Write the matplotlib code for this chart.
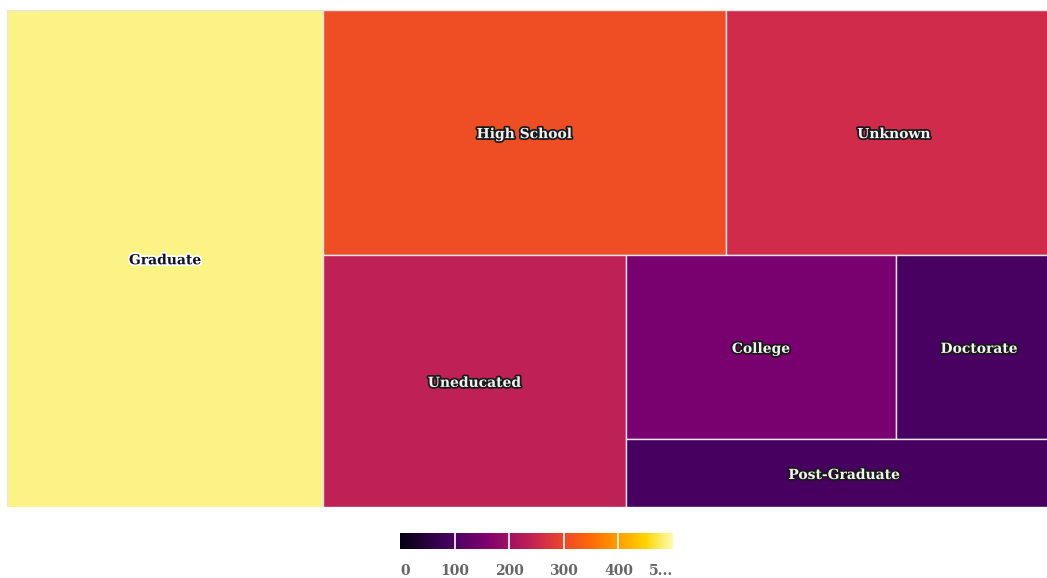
import numpy as np
import matplotlib
matplotlib.use('Agg')
import matplotlib.pyplot as plt
import matplotlib.patheffects as pe
from matplotlib.colors import LinearSegmentedColormap, Normalize, to_rgb
from matplotlib.patches import Rectangle

# Attrited customers per education level, in the order the chart lists them
categories = ['Graduate', 'High School', 'Unknown', 'Uneducated',
              'College', 'Doctorate', 'Post-Graduate']
counts = [487, 306, 256, 237, 154, 95, 92]

# Colour axis
color_min = 0
color_max = 500
color_ticks = [0, 100, 200, 300, 400, 500]
color_tick_labels = ['0', '100', '200', '300', '400', '5...']

# Gradient stops (position on the colour axis, colour)
cmap_stops = [
    (0.00, '#050012'), (0.18, '#450060'), (0.31, '#7b006f'),
    (0.47, '#bd1f56'), (0.51, '#d02a4c'), (0.61, '#ef4c25'),
    (0.70, '#ff6a05'), (0.80, '#ff9d00'), (0.90, '#ffd500'),
    (0.97, '#fbf17e'), (1.00, '#fffaa8'),
]

# Plot area in pixels (the right edge runs past the cropped image)
AREA_W, AREA_H = 1055.0, 497.5
FONT = 'DejaVu Serif'


def aspect(w, h):
    return max(w / h, h / w)


def squarify_alternating(values, width, height):
    """Squarified layout that flips between columns and rows after each strip,
    closing a strip as soon as its last cell gets less square."""
    rects = []
    state = {'x': 0.0, 'y': 0.0, 'w': width, 'h': height,
             'rest': float(sum(values)), 'dir': 0}

    def cell_ratio(row, idx):
        s = sum(row)
        if state['dir'] == 0:
            cw = state['w'] * s / state['rest']
            ch = state['h'] * row[idx] / s
        else:
            ch = state['h'] * s / state['rest']
            cw = state['w'] * row[idx] / s
        return aspect(cw, ch)

    def place(row):
        s = sum(row)
        if state['dir'] == 0:
            cw = state['w'] * s / state['rest']
            yy = state['y']
            for v in row:
                ch = state['h'] * v / s
                rects.append((state['x'], yy, cw, ch))
                yy += ch
            state['x'] += cw
            state['w'] -= cw
        else:
            ch = state['h'] * s / state['rest']
            xx = state['x']
            for v in row:
                cw = state['w'] * v / s
                rects.append((xx, state['y'], cw, ch))
                xx += cw
            state['y'] += ch
            state['h'] -= ch
        state['rest'] -= s
        state['dir'] = 1 - state['dir']

    row = []
    for v in values:
        if row:
            old = cell_ratio(row, -1)
            new = cell_ratio(row + [v], len(row) - 1)
            if new > old:
                place(row)
                row = [v]
                continue
        row.append(v)
    if row:
        place(row)
    return rects


cmap = LinearSegmentedColormap.from_list('edu', cmap_stops)
norm = Normalize(vmin=color_min, vmax=color_max)

fig = plt.figure(figsize=(10.47, 5.78), dpi=100)
fig.patch.set_facecolor('white')

# Treemap axes
ax = fig.add_axes([7.3 / 1047, (578 - 507) / 578, AREA_W / 1047, AREA_H / 578])
ax.set_xlim(0, AREA_W)
ax.set_ylim(AREA_H, 0)
ax.axis('off')

rects = squarify_alternating(counts, AREA_W, AREA_H)
for (x, y, w, h), name, val in zip(rects, categories, counts):
    face = cmap(norm(val))
    ax.add_patch(Rectangle((x, y), w, h, facecolor=face,
                           edgecolor='#e6e6e6', linewidth=1.0))
    r, g, b = to_rgb(face)
    light = (0.299 * r + 0.587 * g + 0.114 * b) > 0.6
    txt_color = '#111122' if light else '#f2f2f2'
    stroke = '#ffffff' if light else '#1a1a1a'
    ax.text(x + w / 2, y + h / 2 + 2, name, ha='center', va='center',
            fontsize=10, fontweight='bold', family=FONT, color=txt_color,
            path_effects=[pe.withStroke(linewidth=2.5, foreground=stroke)])

# Colour legend
cax = fig.add_axes([400 / 1047, (578 - 549) / 578, 273 / 1047, 16.5 / 578])
gradient = np.linspace(color_min, color_max, 512).reshape(1, -1)
cax.imshow(gradient, cmap=cmap, norm=norm, aspect='auto',
           extent=[color_min, color_max, 0, 1])
for t in color_ticks[1:-1]:
    cax.axvline(t, color='white', linewidth=1.2)
cax.set_xlim(color_min, color_max)
cax.set_yticks([])
cax.set_xticks(color_ticks)
cax.set_xticklabels(color_tick_labels, family=FONT, fontweight='bold',
                    fontsize=10, color='#666666')
cax.tick_params(axis='x', length=0, pad=11)
cax.get_xticklabels()[0].set_ha('left')
cax.get_xticklabels()[-1].set_ha('right')
for s in cax.spines.values():
    s.set_visible(False)

fig.savefig('out.png', dpi=100)
